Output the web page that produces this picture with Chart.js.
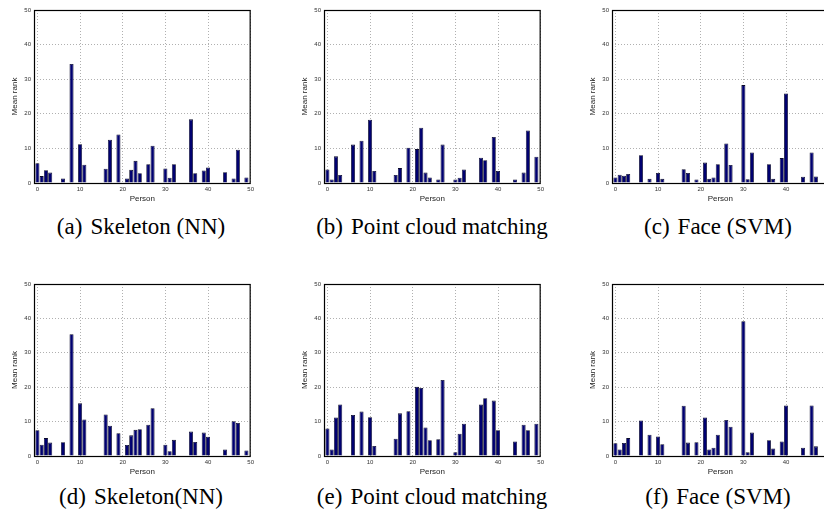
<!DOCTYPE html>
<html>
<head>
<meta charset="utf-8">
<script src="https://cdn.jsdelivr.net/npm/chart.js@4"></script>
<style>
  html, body { margin: 0; padding: 0; width: 824px; height: 511px; overflow: hidden; background: #fff; }
  .panel { position: absolute; }
  .cap {
    position: absolute; transform: translateX(-50%); white-space: nowrap; color: #000;
    font-family: "Liberation Serif", "Times New Roman", serif; font-size: 23px; line-height: 23px;
  }
  .cap span { margin-right: 8px; }
</style>
</head>
<body>
<canvas id="ca" class="panel" width="247" height="204" style="left:10px;top:0px"></canvas>
<canvas id="cb" class="panel" width="247" height="204" style="left:300px;top:0px"></canvas>
<canvas id="cc" class="panel" width="247" height="204" style="left:588px;top:0px"></canvas>
<canvas id="cd" class="panel" width="247" height="203" style="left:10px;top:274px"></canvas>
<canvas id="ce" class="panel" width="247" height="203" style="left:300px;top:274px"></canvas>
<canvas id="cf" class="panel" width="247" height="203" style="left:588px;top:274px"></canvas>

<div class="cap" style="left:141px;top:215px"><span>(a)</span>Skeleton (NN)</div>
<div class="cap" style="left:432px;top:215px"><span>(b)</span>Point cloud matching</div>
<div class="cap" style="left:718px;top:215px"><span>(c)</span>Face (SVM)</div>
<div class="cap" style="left:141px;top:485px"><span>(d)</span>Skeleton(NN)</div>
<div class="cap" style="left:432px;top:485px"><span>(e)</span>Point cloud matching</div>
<div class="cap" style="left:718px;top:485px"><span>(f)</span>Face (SVM)</div>

<script>
// person index on the x axis
const persons = [0,1,2,3,4,5,6,7,8,9,
  10,11,12,13,14,15,16,17,18,19,
  20,21,22,23,24,25,26,27,28,29,
  30,31,32,33,34,35,36,37,38,39,
  40,41,42,43,44,45,46,47,48,49];

const xTicks = [0, 10, 20, 30, 40, 50];
const yTicks = [0, 10, 20, 30, 40, 50];

// mean rank per person
const skeletonA = [5.7,2.0,3.7,3.0,0,0,1.3,0,34.4,0,
  11.2,5.3,0,0,0,0,4.1,12.5,0,14.0,
  0,1.3,3.8,6.4,2.8,0,5.4,10.8,0,0,
  4.2,1.5,5.4,0,0,0,18.4,2.8,0,3.6,
  4.5,0,0,0,3.1,0,1.3,9.6,0,1.6];

const cloudB = [3.9,1.0,7.7,2.3,0,0,11.1,0,12.2,0,
  18.3,3.5,0,0,0,0,2.3,4.3,0,10.2,
  0,9.8,16.0,3.0,1.6,0,1.0,11.1,0,0,
  1.0,1.5,3.9,0,0,0,7.3,6.6,0,13.3,
  3.5,0,0,0,1.0,0,3.0,15.2,0,7.6];

const faceC = [1.6,2.4,2.1,2.6,0,0,8.0,0,1.2,0,
  2.9,1.2,0,0,0,0,4.0,2.9,0,1.0,
  0,5.9,1.2,1.6,5.4,0,11.4,5.2,0,0,
  28.3,1.1,8.8,0,0,0,5.4,1.2,0,7.2,
  25.9,0,0,0,1.8,0,8.8,1.9,0,0];

const skeletonD = [7.5,3.3,5.2,3.9,0,0,4.0,0,35.4,0,
  15.3,10.6,0,0,0,0,12.1,8.8,0,6.6,
  0,3.2,6.0,7.6,7.8,0,9.1,13.9,0,0,
  3.3,1.4,4.7,0,0,0,7.1,4.1,0,6.8,
  5.6,0,0,0,1.9,0,10.1,9.6,0,1.6];

const cloudE = [8.0,1.9,11.2,15.0,0,0,11.9,0,12.9,0,
  11.3,2.9,0,0,0,0,5.0,12.4,0,13.0,
  0,20.1,19.8,8.3,4.6,0,4.9,22.1,0,0,
  1.1,6.5,9.4,0,0,0,15.0,16.8,0,16.1,
  7.5,0,0,0,4.2,0,9.1,7.5,0,9.4];

const faceF = [3.7,1.9,3.8,5.2,0,0,10.3,0,6.2,0,
  5.7,3.4,0,0,0,0,14.6,3.9,0,4.0,
  0,11.2,1.9,2.4,6.2,0,10.5,8.5,0,0,
  39.2,1.1,6.8,0,0,0,4.6,2.2,0,4.2,
  14.7,0,0,0,2.4,0,14.7,2.8,0,0];

const axisFont = { family: '"Liberation Sans", Arial, sans-serif', size: 6 };
const titleFont = { family: '"Liberation Sans", Arial, sans-serif', size: 8 };

// black frame round the plot area, like the matlab axes box
const boxPlugin = {
  id: 'box',
  afterDraw(chart) {
    const { ctx, chartArea: a } = chart;
    ctx.save();
    ctx.strokeStyle = '#000';
    ctx.lineWidth = 1.2;
    ctx.strokeRect(a.left + 0.5, a.top + 0.5, a.right - a.left - 1, a.bottom - a.top);
    ctx.restore();
  }
};

function makeChart(id, values) {
  new Chart(document.getElementById(id), {
    type: 'bar',
    data: {
      datasets: [{
        data: persons.map((p, i) => ({ x: p, y: values[i] })),
        backgroundColor: '#000070',
        borderColor: '#0a0a2a',
        borderWidth: 0.8,
        borderSkipped: 'start',
        barPercentage: 0.95,
        categoryPercentage: 1
      }]
    },
    options: {
      responsive: false,
      animation: false,
      devicePixelRatio: 1,
      layout: { padding: { top: 10, right: 4, left: 0, bottom: 0 } },
      plugins: { legend: { display: false }, tooltip: { enabled: false } },
      scales: {
        x: {
          type: 'linear',
          min: -0.8,
          max: 50,
          offset: false,
          afterBuildTicks: s => { s.ticks = xTicks.map(v => ({ value: v })); },
          afterFit: s => { s.height = 21; },
          grid: { color: '#b0b0b0', lineWidth: 1, drawTicks: false, offset: false },
          border: { display: false, dash: [1, 2] },
          ticks: { font: axisFont, color: '#333', padding: 3, maxRotation: 0 },
          title: { display: true, text: 'Person', font: titleFont, color: '#222', padding: 0 }
        },
        y: {
          min: 0,
          max: 50,
          afterBuildTicks: s => { s.ticks = yTicks.map(v => ({ value: v })); },
          afterFit: s => { s.width = 24; },
          grid: { color: '#b0b0b0', lineWidth: 1, drawTicks: false },
          border: { display: false, dash: [1, 2] },
          ticks: { font: axisFont, color: '#333', padding: 3 },
          title: { display: true, text: 'Mean rank', font: titleFont, color: '#222', padding: 0 }
        }
      }
    },
    plugins: [boxPlugin]
  });
}

makeChart('ca', skeletonA);
makeChart('cb', cloudB);
makeChart('cc', faceC);
makeChart('cd', skeletonD);
makeChart('ce', cloudE);
makeChart('cf', faceF);
</script>
</body>
</html>
